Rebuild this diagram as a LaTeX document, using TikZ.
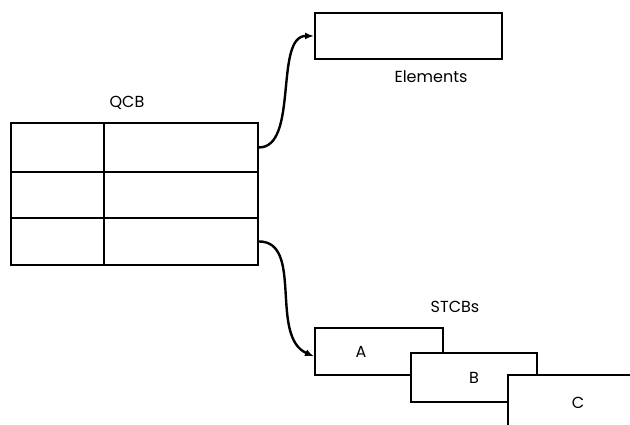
\documentclass[tikz,border=0pt]{standalone}
\usepackage{fontspec}
\setmainfont{Poppins}
\usetikzlibrary{arrows.meta, positioning}

\begin{document}
\begin{tikzpicture}[
        x=1pt, y=-1pt,
        cell/.style={rectangle, draw=black, line width=1.9pt, fill=white, inner sep=0pt, anchor=north west},
        block/.style={rectangle, draw=black, line width=1.9pt, fill=white, inner sep=0pt, anchor=north west, font=\fontsize{16}{18}\selectfont},
        caption/.style={font=\fontsize{16}{18}\selectfont, inner sep=0pt},
        pointer/.style={-{Latex[length=9pt, width=7pt]}, line width=2.4pt}
    ]
    \clip (0,0) rectangle (630,424);

    % QCB table
    \node (qcb) [caption] at (127,103) {QCB};
    \node (c11) [cell, minimum width=93pt, minimum height=49pt] at (10,122) {};
    \node (c12) [cell, minimum width=154pt, minimum height=49pt] at (103,122) {};
    \node (c21) [cell, minimum width=93pt, minimum height=46pt] at (10,171) {};
    \node (c22) [cell, minimum width=154pt, minimum height=46pt] at (103,171) {};
    \node (c31) [cell, minimum width=93pt, minimum height=47pt] at (10,217) {};
    \node (c32) [cell, minimum width=154pt, minimum height=47pt] at (103,217) {};

    % Elements
    \node (elem) [block, minimum width=187pt, minimum height=46pt] at (314,12) {};
    \node (elemlabel) [caption] at (431,77) {Elements};

    % STCBs
    \node (stcbs) [caption] at (455,307) {STCBs};
    \node (stcba) [block, minimum width=128pt, minimum height=47pt,
        label={[xshift=-18pt, font=\fontsize{16}{18}\selectfont]center:A}] at (314,327) {};
    \node (stcbb) [block, minimum width=126pt, minimum height=49pt] at (410,352) {B};
    \node (stcbc) [block, minimum width=140pt, minimum height=56pt] at (507,374) {C};

    % Pointers
    \draw [pointer] (c12.east) .. controls +(40,0) and +(-40,0) .. (elem.west);
    \draw [pointer] (c32.east) .. controls +(45,0) and +(-45,-20) .. ([yshift=-5pt]stcba.west);
\end{tikzpicture}
\end{document}
